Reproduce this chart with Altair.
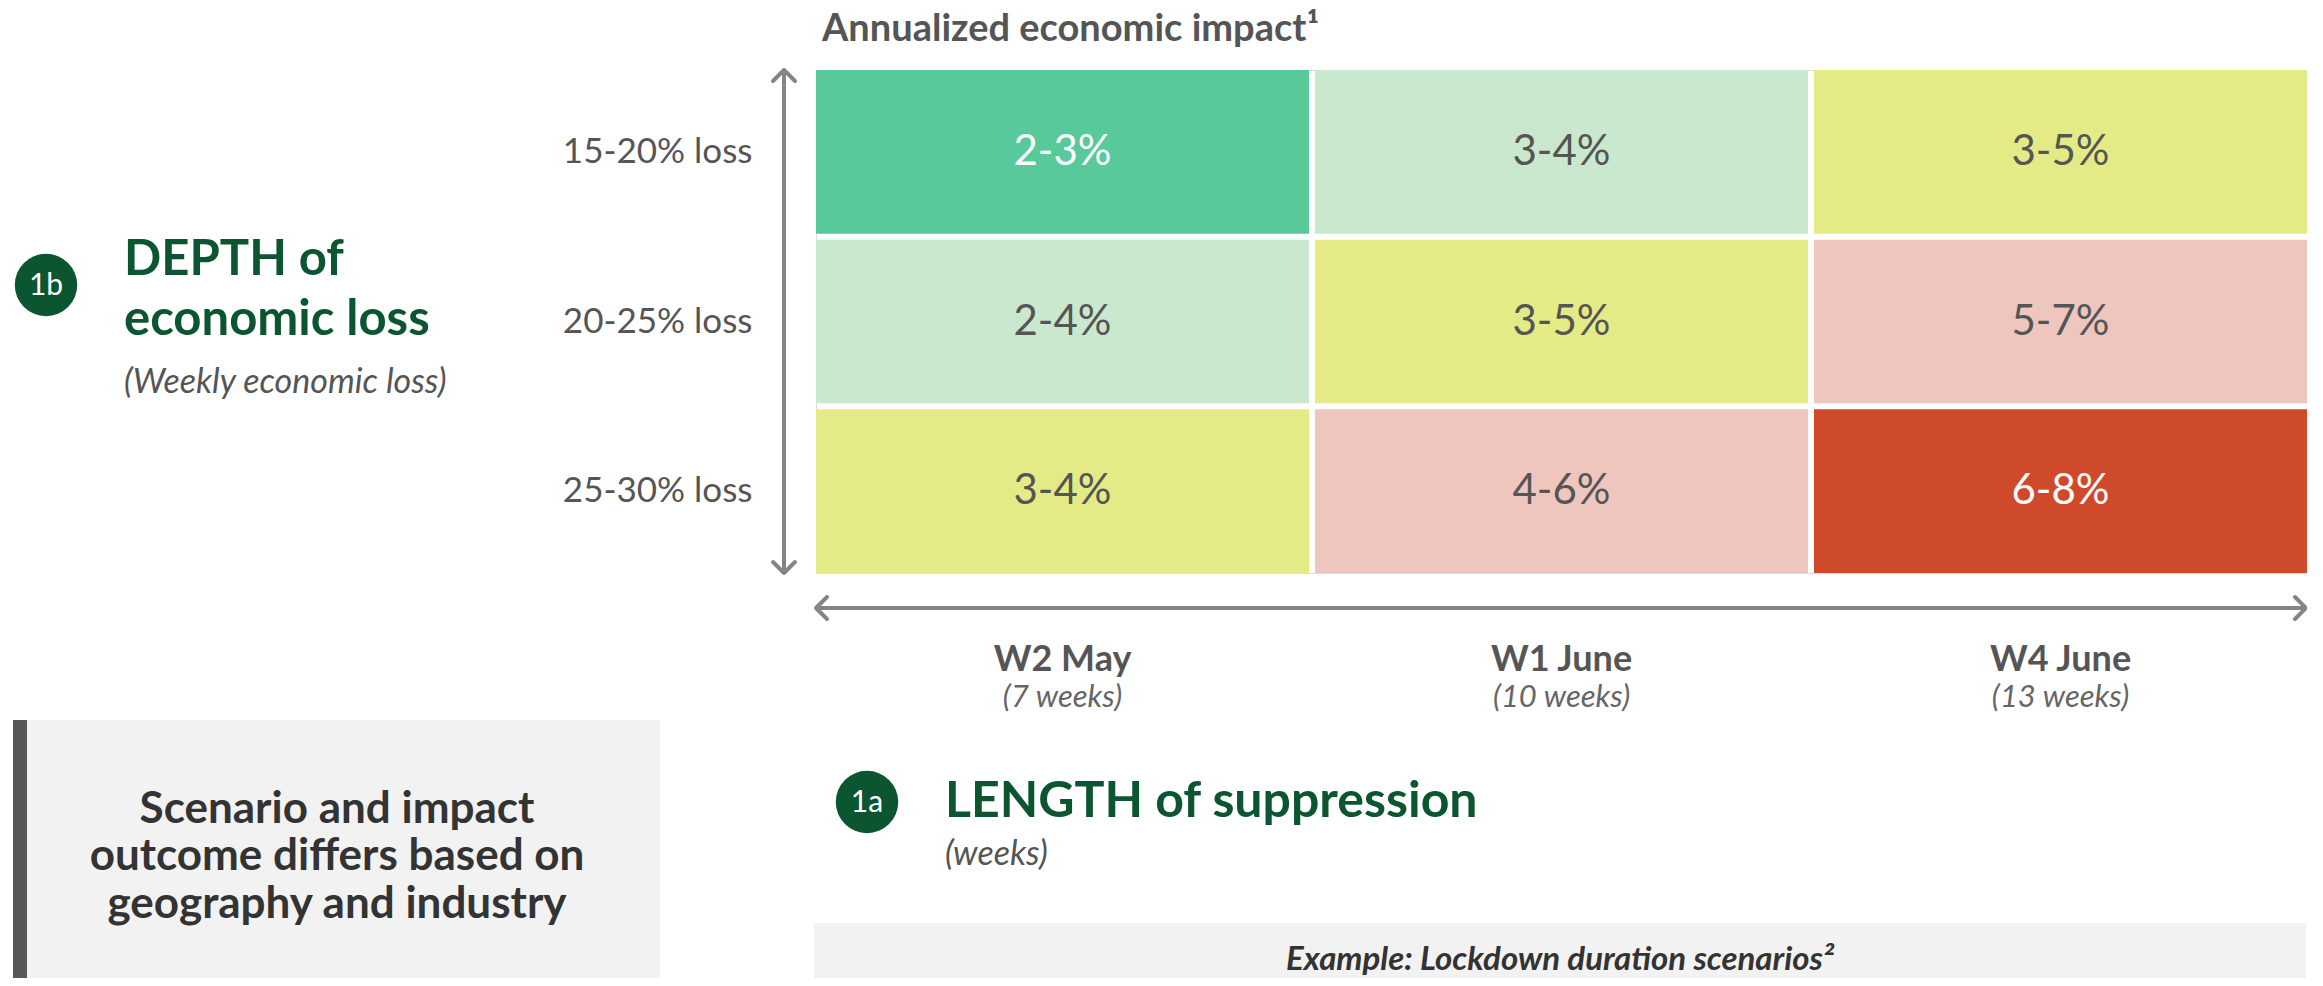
import altair as alt
import pandas as pd

# ---- data ----
periods = ["W2 May", "W1 June", "W4 June"]
period_weeks = ["(7 weeks)", "(10 weeks)", "(13 weeks)"]
depths = ["15-20% loss", "20-25% loss", "25-30% loss"]
impact = [
    ["2-3%", "3-4%", "3-5%"],
    ["2-4%", "3-5%", "5-7%"],
    ["3-4%", "4-6%", "6-8%"],
]
severity = [
    [1, 2, 3],
    [2, 3, 4],
    [3, 4, 5],
]
severity_levels = [1, 2, 3, 4, 5]
severity_colors = ["#58C99B", "#CAE8CD", "#E4EB86", "#EFC6BE", "#CF4A2B"]

title_text = "Annualized economic impact\u00b9"
depth_title = ["DEPTH of", "economic loss"]
depth_sub = "(Weekly economic loss)"
length_title = "LENGTH of suppression"
length_sub = "(weeks)"
box_lines = ["Scenario and impact", "outcome differs based on", "geography and industry"]
example_text = "Example: Lockdown duration scenarios\u00b2"

rows = []
for i, d in enumerate(depths):
    for j, p in enumerate(periods):
        rows.append({"depth": d, "period": p, "impact": impact[i][j], "severity": severity[i][j]})
df = pd.DataFrame(rows)
cols_df = pd.DataFrame({"period": periods, "weeks": period_weeks})
one = pd.DataFrame({"k": [0]})

GREEN = "#0B5530"
GRAY = "#555555"
ARROW = "#858585"

xscale = alt.Scale(domain=periods, paddingInner=0.012, paddingOuter=0)
yscale = alt.Scale(domain=depths, paddingInner=0.035, paddingOuter=0)

base = alt.Chart(df).encode(
    x=alt.X("period:N", sort=periods, scale=xscale, axis=None),
    y=alt.Y("depth:N", sort=depths, scale=yscale, title=None,
            axis=alt.Axis(domain=False, ticks=False, tickSize=0, labelPadding=64,
                          labelFontSize=35, labelColor=GRAY, labelFont="Lato",
                          labelLimit=0, labelFontWeight="normal")),
)
cells = base.mark_rect().encode(
    color=alt.Color("severity:O", scale=alt.Scale(domain=severity_levels, range=severity_colors), legend=None)
)
cell_text = base.mark_text(fontSize=42, font="Lato").encode(
    text="impact:N",
    color=alt.condition("datum.severity == 1 || datum.severity == 5", alt.value("white"), alt.value(GRAY)),
)

col_bold = alt.Chart(cols_df).mark_text(fontSize=36, fontWeight="bold", color=GRAY, font="Lato").encode(
    x=alt.X("period:N", sort=periods, scale=xscale, axis=None), y=alt.value(590), text="period:N")
col_sub = alt.Chart(cols_df).mark_text(fontSize=31, fontStyle="italic", color="#666666", font="Lato").encode(
    x=alt.X("period:N", sort=periods, scale=xscale, axis=None), y=alt.value(628), text="weeks:N")


def txt(s, x, y, size, color, weight="normal", style="normal", align="left"):
    return alt.Chart(one).mark_text(text=s, fontSize=size, fontWeight=weight, fontStyle=style,
                                    color=color, align=align, baseline="middle", font="Lato").encode(
        x=alt.value(x), y=alt.value(y))


def rect(x, x2, y, y2, color):
    return alt.Chart(one).mark_rect(color=color).encode(
        x=alt.value(x), x2=alt.value(x2), y=alt.value(y), y2=alt.value(y2))


def rule(x, x2, y, y2):
    return alt.Chart(one).mark_rule(color=ARROW, strokeWidth=4).encode(
        x=alt.value(x), x2=alt.value(x2), y=alt.value(y), y2=alt.value(y2))


def chevron(shape, x, y):
    return alt.Chart(one).mark_point(shape=shape, filled=False, strokeWidth=4, color=ARROW,
                                     size=484, opacity=1, strokeCap="round", strokeJoin="round").encode(
        x=alt.value(x), y=alt.value(y))


def badge(label, x, y):
    c = alt.Chart(one).mark_point(shape="circle", filled=True, size=3900, color=GREEN, opacity=1).encode(
        x=alt.value(x), y=alt.value(y))
    t = txt(label, x, y + 1, 30, "white", align="center")
    return c + t


layers = [
    rect(-803, -156, 650, 908, "#F2F2F2"),
    rect(-803, -789, 650, 908, "#595959"),
    rect(-2, 1490, 853, 908, "#F2F2F2"),
    cells, cell_text, col_bold, col_sub,
    rule(-32, -32, 0, 503),
    chevron("M -1 1 L 0 0 L 1 1", -32, 0),
    chevron("M -1 -1 L 0 0 L 1 -1", -32, 503),
    rule(0, 1490, 538, 538),
    chevron("M 1 -1 L 0 0 L 1 1", 0, 538),
    chevron("M -1 -1 L 0 0 L -1 1", 1490, 538),
    txt(title_text, 6, -40, 38, GRAY, weight="bold"),
    badge("1b", -770, 215),
    txt(depth_title[0], -692, 190, 49, GREEN, weight="bold"),
    txt(depth_title[1], -692, 250, 49, GREEN, weight="bold"),
    txt(depth_sub, -692, 313, 34, GRAY, style="italic"),
    badge("1a", 51, 732),
    txt(length_title, 129, 732, 50, GREEN, weight="bold"),
    txt(length_sub, 129, 785, 34, GRAY, style="italic"),
    txt(box_lines[0], -479, 740, 44, "#333333", weight="bold", align="center"),
    txt(box_lines[1], -479, 787, 44, "#333333", weight="bold", align="center"),
    txt(box_lines[2], -479, 835, 44, "#333333", weight="bold", align="center"),
    txt(example_text, 744, 890, 33, "#333333", weight="bold", style="italic", align="center"),
]

chart = alt.layer(*layers).properties(
    width=1491, height=503,
    autosize=alt.AutoSizeParams(type="none"),
    padding={"left": 808, "top": 62, "right": 0, "bottom": 405},
).configure_view(stroke=None).configure(font="Lato")

chart.save("out.html", embed_options={"renderer": "svg", "actions": False})
